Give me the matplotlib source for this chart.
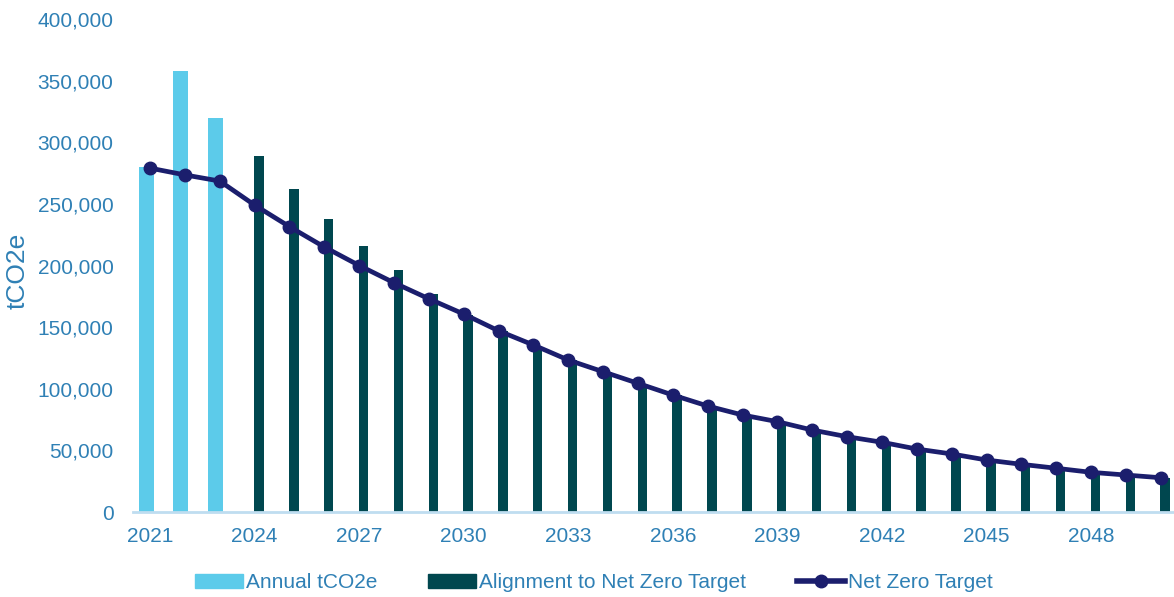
import matplotlib
matplotlib.use("Agg")
import matplotlib.pyplot as plt
from matplotlib.ticker import FuncFormatter, MultipleLocator
from matplotlib.lines import Line2D
from matplotlib.patches import Patch

years = list(range(2021, 2051))
annual_years = [2021, 2022, 2023]
annual_vals = [280000, 358000, 320000]
align_years = list(range(2024, 2051))
align_vals = [289000, 262000, 238000, 216000, 196000, 177000, 160000, 147000,
              135000, 123000, 113500, 104000, 95000, 86000, 78500, 73000,
              66500, 61000, 56500, 51000, 47000, 42500, 38500, 35500, 32000,
              29800, 27800]
target_vals = [279000, 273500, 268500, 249000, 231500, 215000, 200000, 186000,
               173000, 160600, 147000, 135500, 123300, 113800, 104400, 94900,
               86000, 78700, 73300, 66500, 61100, 56600, 51100, 47100, 42200,
               38700, 35500, 32200, 30000, 27800]
xtick_years = list(range(2021, 2050, 3))

LIGHT = "#5CCBEA"
DARK = "#00474F"
NAVY = "#1B1E6D"
TXT = "#2F80B5"
AXIS = "#BFDDF0"

plt.rcParams['font.family'] = ['Liberation Sans', 'DejaVu Sans']

fig = plt.figure(figsize=(11.74, 5.97), dpi=100)
ax = fig.add_axes([133/1174, 85/597, 1 - 133/1174, (512-19)/597])

ax.bar([y - 0.115 for y in annual_years], annual_vals, width=0.43, color=LIGHT,
       label="Annual tCO2e", zorder=2)
ax.bar([y + 0.125 for y in align_years], align_vals, width=0.27, color=DARK,
       label="Alignment to Net Zero Target", zorder=2)
ax.plot(years, target_vals, color=NAVY, lw=3.4, marker='o', ms=9,
        label="Net Zero Target", zorder=3)

ax.set_ylim(0, 400000)
ax.set_xlim(2020.51, 2050.38)
ax.yaxis.set_major_locator(MultipleLocator(50000))
ax.yaxis.set_major_formatter(FuncFormatter(lambda v, p: f"{int(v):,}"))
ax.set_xticks(xtick_years)
ax.set_xticklabels([str(y) for y in xtick_years])
ax.tick_params(axis='both', length=0, colors=TXT, labelsize=15)
ax.tick_params(axis='y', pad=14)
ax.tick_params(axis='x', pad=11)
for s in ['top', 'right', 'left']:
    ax.spines[s].set_visible(False)
ax.spines['bottom'].set_color(AXIS)
ax.spines['bottom'].set_linewidth(2)
ax.spines['bottom'].set_zorder(4)

ax.set_ylabel("tCO2e", color=TXT, fontsize=19)
ax.yaxis.set_label_coords(-103/1041, 0.489)

handles = [Patch(color=LIGHT), Patch(color=DARK),
           Line2D([], [], color=NAVY, lw=4, marker='o', ms=9)]
labels = ["Annual tCO2e", "Alignment to Net Zero Target", "Net Zero Target"]
leg = fig.legend(handles, labels, loc='center', bbox_to_anchor=(594/1174, 1 - 583/597),
                 ncol=3, frameon=False, fontsize=15, handlelength=2.3,
                 handleheight=0.67, handletextpad=0.15, columnspacing=2.45,
                 borderaxespad=0, borderpad=0)
for t in leg.get_texts():
    t.set_color(TXT)

fig.savefig("out.png", dpi=100)
